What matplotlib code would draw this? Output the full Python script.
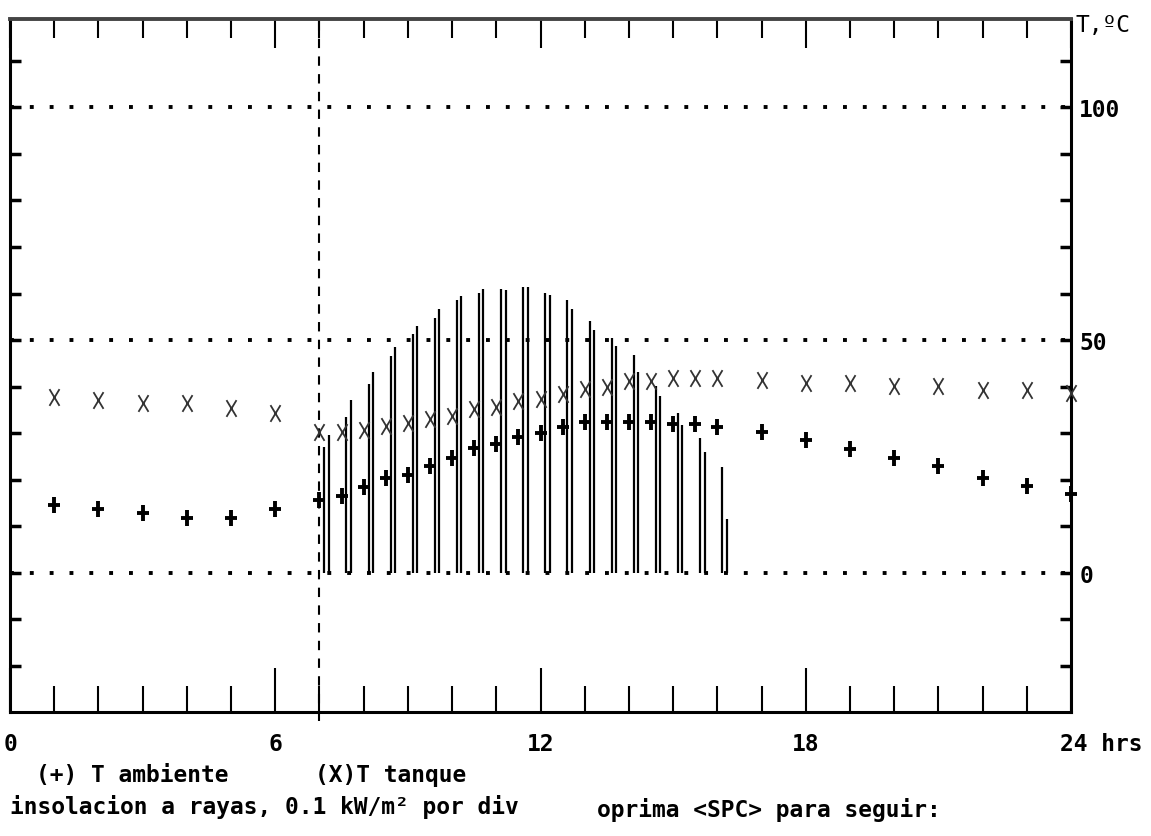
import matplotlib.pyplot as plt
from matplotlib.path import Path
from matplotlib.ticker import MultipleLocator, FuncFormatter
import matplotlib.transforms as mtransforms

# hours at which temperatures were printed
hours = [1, 2, 3, 4, 5, 6,
         7, 7.5, 8, 8.5, 9, 9.5, 10, 10.5, 11, 11.5, 12, 12.5, 13, 13.5,
         14, 14.5, 15, 15.5, 16,
         17, 18, 19, 20, 21, 22, 23, 24]
# (+) T ambiente, deg C
t_ambiente = [14.6, 13.7, 12.8, 11.7, 11.7, 13.7,
              15.7, 16.5, 18.3, 20.4, 20.9, 23.0, 24.7, 26.7, 27.7, 29.2, 30.1, 31.2, 32.3, 32.3,
              32.3, 32.3, 32.0, 32.0, 31.4,
              30.2, 28.5, 26.6, 24.7, 23.0, 20.3, 18.6, 16.9]
# (X) T tanque, deg C
t_tanque = [37.8, 37.2, 36.5, 36.5, 35.4, 34.3,
            30.2, 30.2, 30.7, 31.5, 32.1, 33.0, 33.7, 35.1, 35.7, 36.8, 37.4, 38.3, 39.4, 40.0,
            41.1, 41.1, 41.9, 41.9, 41.9,
            41.4, 40.7, 40.7, 40.1, 40.1, 39.2, 39.2, 38.6]

# insolation stripes (0.1 kW/m2 per 10 units), two strokes per stripe
insol_hours = [7, 7.5, 8, 8.5, 9, 9.5, 10, 10.5, 11, 11.5, 12, 12.5, 13, 13.5,
               14, 14.5, 15, 15.5, 16]
insol_a = [26.9, 33.5, 40.6, 46.6, 51.3, 54.7, 58.5, 60.2, 61.0, 61.3, 60.2, 58.5, 54.0, 50.4,
           46.8, 40.2, 34.3, 28.9, 22.6]
insol_b = [29.5, 37.0, 43.2, 48.4, 53.0, 56.6, 59.4, 61.0, 60.8, 61.3, 59.6, 56.7, 52.1, 48.7,
           43.2, 37.9, 31.7, 26.0, 11.5]

mono = {'family': 'DejaVu Sans Mono', 'weight': 'bold', 'size': 16.5}

fig = plt.figure(figsize=(11.51, 8.37), dpi=100)
ax = fig.add_axes([0.0087, 0.148, 0.9218, 0.828])
ax.set_xlim(0, 24)
ax.set_ylim(-30, 119)

# reference lines
for yv in (0, 50, 100):
    ax.axhline(yv, color='black', lw=2.8, ls=(0, (1, 4.1)), zorder=1)
ax.plot([7, 7], [-32, 119], color='black', lw=1.5, ls=(0, (4.5, 4)), clip_on=False, zorder=1)

# insolation stripes
ax.vlines([h + 0.11 for h in insol_hours], 0, insol_a, color='black', lw=1.6, zorder=2)
ax.vlines([h + 0.21 for h in insol_hours], 0, insol_b, color='black', lw=1.6, zorder=2)

plus = Path([(0, -1), (0, 1), (-0.8, 0.05), (0.8, 0.05)],
            [Path.MOVETO, Path.LINETO, Path.MOVETO, Path.LINETO])
cross = Path([(-0.6, -1), (0.6, 1), (-0.6, 1), (0.6, -1)],
             [Path.MOVETO, Path.LINETO, Path.MOVETO, Path.LINETO])
ax.plot(hours, t_ambiente, ls='none', marker=plus, ms=11, mew=2.8, color='black',
        clip_on=False, zorder=3)
ax.plot(hours, t_tanque, ls='none', marker=cross, ms=12, mew=1.3, color='#333333',
        clip_on=False, zorder=3)

for s in ax.spines.values():
    s.set_linewidth(2.2)
ax.spines['top'].set_color('#444444')
ax.spines['top'].set_linewidth(2.8)

# x ticks: bottom
ax.set_xticks([0, 6, 12, 18, 24])
ax.set_xticklabels(['0', '6', '12', '18', ''], fontdict=mono)
ax.xaxis.set_minor_locator(MultipleLocator(1))
ax.tick_params(axis='x', which='both', direction='in', top=False, width=1.5, pad=14)
ax.tick_params(axis='x', which='major', length=32)
ax.tick_params(axis='x', which='minor', length=19)
trans = mtransforms.blended_transform_factory(ax.transData, ax.transAxes)
ax.text(23.75, -0.028, '24 hrs', transform=trans, ha='left', va='top', **mono)

# x ticks: top
top = ax.secondary_xaxis('top')
top.set_xticks([0, 6, 12, 18, 24])
top.xaxis.set_minor_locator(MultipleLocator(1))
top.tick_params(axis='x', which='both', direction='in', labeltop=False, width=1.5)
top.tick_params(axis='x', which='major', length=21)
top.tick_params(axis='x', which='minor', length=14)
top.spines['top'].set_visible(False)

# y ticks: both sides, labels on the right
ax.set_yticks(range(-20, 111, 10))
ax.yaxis.set_major_formatter(FuncFormatter(lambda v, p: str(int(v)) if v in (0, 50, 100) else ''))
ax.tick_params(axis='y', direction='in', left=True, right=True, labelleft=False,
               labelright=True, length=8, width=2.5, pad=6)
for lab in ax.get_yticklabels():
    lab.set_fontproperties(mono)
fig.text(0.934, 0.970, 'T,ºC', va='center', ha='left', family='DejaVu Sans Mono', size=16.5)

# captions
fig.text(0.031, 0.073, '(+) T ambiente', va='center', ha='left', **mono)
fig.text(0.274, 0.073, '(X)T tanque', va='center', ha='left', **mono)
fig.text(0.009, 0.036, 'insolacion a rayas, 0.1 kW/m² por div', va='center', ha='left', **mono)
fig.text(0.519, 0.032, 'oprima <SPC> para seguir:', va='center', ha='left', **mono)

fig.savefig('out.png', dpi=100, facecolor='white')
